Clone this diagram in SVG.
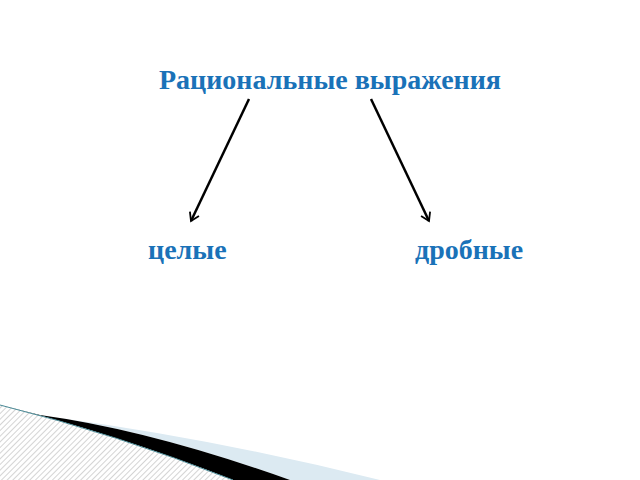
<svg xmlns="http://www.w3.org/2000/svg" width="640" height="480" viewBox="0 0 640 480">
<defs>
<style>
.t{font-family:"Liberation Serif","Times New Roman",serif;font-weight:bold;fill:#1a72b8;font-size:28px}
.c{stroke:#000;stroke-width:2.5;fill:none}
</style>
<marker id="ah" markerWidth="12" markerHeight="12" refX="9" refY="6" orient="auto" markerUnits="userSpaceOnUse">
<path d="M1,1 L9,6 L1,11" fill="none" stroke="#000" stroke-width="1.8"/>
</marker>
<pattern id="hatch" width="4" height="4" patternUnits="userSpaceOnUse" patternTransform="rotate(45)">
<rect width="4" height="4" fill="#fff"/>
<line x1="0" y1="0" x2="0" y2="4" stroke="#b8b8b8" stroke-width="1.2"/>
</pattern>
</defs>
<rect width="640" height="480" fill="#fff"/>
<g id="decor">
<path d="M60,418 Q220,440 380,480 L290,480 Q150,430 40,415 Z" fill="#dceaf2"/>
<path d="M40,415 Q150,430 290,480 L233,480 Q116,434 0,405 Z" fill="#000"/>
<path d="M0,405 Q116,434 233,480 L0,480 Z" fill="url(#hatch)"/>
<path d="M0,405 Q116,434 233,480" fill="none" stroke="#4a8a96" stroke-width="1"/>
</g>
<g id="connectors">
<line class="c" x1="249" y1="99" x2="191" y2="221" marker-end="url(#ah)"/>
<line class="c" x1="371" y1="99" x2="429" y2="221" marker-end="url(#ah)"/>
</g>
<g id="node-root"><text class="t" x="330" y="89" text-anchor="middle">Рациональные выражения</text></g>
<g id="node-left"><text class="t" x="148" y="259">целые</text></g>
<g id="node-right"><text class="t" x="415" y="259">дробные</text></g>
</svg>
